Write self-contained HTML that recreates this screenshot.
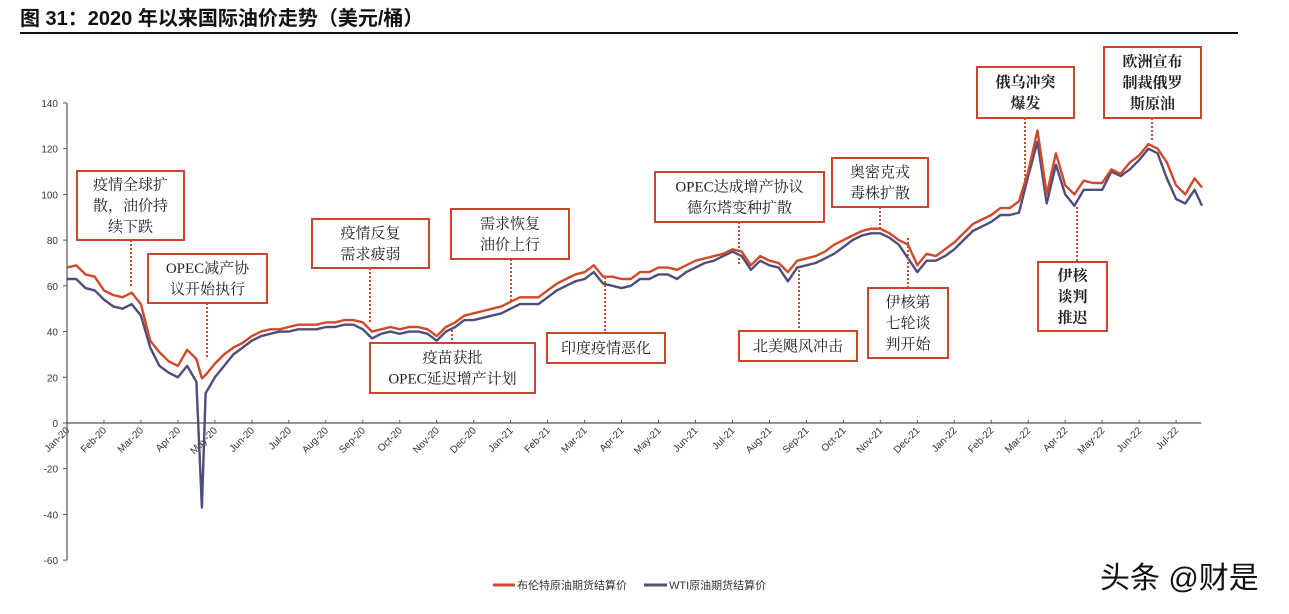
<!DOCTYPE html>
<html><head><meta charset="utf-8">
<style>
html,body{margin:0;padding:0;background:#fff;}
svg{display:block;}
.ann{font-family:"Liberation Serif","Noto Serif CJK SC",serif;font-size:15px;fill:#222;}
.tk{font-family:"Liberation Sans",sans-serif;font-size:10px;fill:#333;}
</style></head>
<body>
<svg id="chart" width="1289" height="614" viewBox="0 0 1289 614" xmlns="http://www.w3.org/2000/svg">
<text x="20" y="25" font-family="Liberation Sans,'Noto Sans CJK SC',sans-serif" font-size="20" font-weight="bold" fill="#111">图 31：2020 年以来国际油价走势（美元/桶）</text>
<line x1="20" y1="33" x2="1238" y2="33" stroke="#111" stroke-width="2"/>
<g id="axes"></g>
<g id="series"></g>
<g id="annots"></g>
<g>
<line x1="493" y1="585" x2="515" y2="585" stroke="#d0492a" stroke-width="3"/>
<text x="517" y="589" font-family="Liberation Sans,'Noto Sans CJK SC',sans-serif" font-size="11" fill="#333">布伦特原油期货结算价</text>
<line x1="644" y1="585" x2="667" y2="585" stroke="#4f4d7a" stroke-width="3"/>
<text x="669" y="589" font-family="Liberation Sans,'Noto Sans CJK SC',sans-serif" font-size="11" fill="#333">WTI原油期货结算价</text>
</g>
<text x="1100" y="588" font-family="Liberation Sans,'Noto Sans CJK SC',sans-serif" font-size="30" fill="#111">头条 @财是</text>
</svg>
<script>
const monthLabels=["Jan-20","Feb-20","Mar-20","Apr-20","May-20","Jun-20","Jul-20","Aug-20","Sep-20","Oct-20","Nov-20","Dec-20","Jan-21","Feb-21","Mar-21","Apr-21","May-21","Jun-21","Jul-21","Aug-21","Sep-21","Oct-21","Nov-21","Dec-21","Jan-22","Feb-22","Mar-22","Apr-22","May-22","Jun-22","Jul-22"];
const yTicks=[140,120,100,80,60,40,20,0,-20,-40,-60];
const dates=[0,0.25,0.5,0.75,1,1.25,1.5,1.75,2,2.25,2.5,2.75,3,3.25,3.5,3.65,3.75,4,4.25,4.5,4.75,5,5.25,5.5,5.75,6,6.25,6.5,6.75,7,7.25,7.5,7.75,8,8.25,8.5,8.75,9,9.25,9.5,9.75,10,10.25,10.5,10.75,11,11.25,11.5,11.75,12,12.25,12.5,12.75,13,13.25,13.5,13.75,14,14.25,14.5,14.75,15,15.25,15.5,15.75,16,16.25,16.5,16.75,17,17.25,17.5,17.75,18,18.25,18.5,18.75,19,19.25,19.5,19.75,20,20.25,20.5,20.75,21,21.25,21.5,21.75,22,22.25,22.5,22.75,23,23.25,23.5,23.75,24,24.25,24.5,24.75,25,25.25,25.5,25.75,26,26.25,26.5,26.75,27,27.25,27.5,27.75,28,28.25,28.5,28.75,29,29.25,29.5,29.75,30,30.25,30.5,30.7];
const brent=[68,69,65,64,58,56,55,57,52,36,31,27,25,32,28,19.5,21,26,30,33,35,38,40,41,41,42,43,43,43,44,44,45,45,44,40,41,42,41,42,42,41,38,42,44,47,48,49,50,51,53,55,55,55,58,61,63,65,66,69,64,64,63,63,66,66,68,68,67,69,71,72,73,74,76,75,69,73,71,70,66,71,72,73,75,78,80,82,84,85,85,83,80,78,69,74,73,76,79,83,87,89,91,94,94,97,110,128,100,118,104,100,106,105,105,111,109,114,117,122,120,114,104,100,107,103];
const wti=[63,63,59,58,54,51,50,52,47,33,25,22,20,25,18,-37,13,20,25,30,33,36,38,39,40,40,41,41,41,42,42,43,43,41,37,39,40,39,40,40,39,36,40,42,45,45,46,47,48,50,52,52,52,55,58,60,62,63,66,61,60,59,60,63,63,65,65,63,66,68,70,71,73,75,73,67,71,69,68,62,68,69,70,72,74,77,80,82,83,83,81,78,72,66,71,71,73,76,80,84,86,88,91,91,92,108,123,96,113,100,95,102,102,102,110,108,111,115,120,118,107,98,96,102,95];
const NS="http://www.w3.org/2000/svg";
const X0=67,MW=36.97,Y0=423,PU=2.286;
function xs(m){return X0+m*MW;}
function ys(v){return Y0-v*PU;}
function mk(tag,attrs,parent){const e=document.createElementNS(NS,tag);for(const k in attrs)e.setAttribute(k,attrs[k]);parent.appendChild(e);return e;}
const axes=document.getElementById('axes');
let yl=mk('line',{x1:X0,y1:ys(140),x2:X0,y2:ys(-60),stroke:'#555','stroke-width':1.2},axes);


yTicks.forEach(v=>{
  let t=mk('line',{x1:X0-4,y1:ys(v),x2:X0,y2:ys(v),stroke:'#555'},axes);
  
  
  let l=mk('text',{x:X0-9,y:ys(v)+4,'text-anchor':'end',class:'tk'},axes);
  l.textContent=v;
  
  
});
let xl=mk('line',{x1:X0,y1:Y0,x2:xs(30.68),y2:Y0,stroke:'#555','stroke-width':1.2},axes);


monthLabels.forEach((lab,i)=>{
  const x=xs(i);
  let t=mk('line',{x1:x,y1:Y0,x2:x,y2:Y0-3,stroke:'#555'},axes);
  
  
  let l=mk('text',{x:x+3,y:Y0+8,'text-anchor':'end',class:'tk',transform:`rotate(-45 ${x+3} ${Y0+8})`},axes);
  l.textContent=lab;
  
  
});
const ser=document.getElementById('series');
function path(vals){return vals.map((v,i)=>(i?'L':'M')+xs(dates[i]).toFixed(1)+','+ys(v).toFixed(1)).join('');}
let pb=mk('path',{d:path(brent),fill:'none',stroke:'#d0492a','stroke-width':2.4,'stroke-linejoin':'round'},ser);


let pw=mk('path',{d:path(wti),fill:'none',stroke:'#4f4d7a','stroke-width':2.4,'stroke-linejoin':'round'},ser);


ser.appendChild(pb);
const ann=[
 [77,171,184,240,["疫情全球扩","散，油价持","续下跌"],131,240,288,false],
 [148,254,267,303,["OPEC减产协","议开始执行"],207,303,357,false],
 [312,219,429,268,["疫情反复","需求疲弱"],370,268,323,false],
 [451,209,569,259,["需求恢复","油价上行"],511,259,303,false],
 [370,343,535,393,["疫苗获批","OPEC延迟增产计划"],452,330,343,false],
 [547,333,665,363,["印度疫情恶化"],605,277,333,false],
 [655,172,824,222,["OPEC达成增产协议","德尔塔变种扩散"],739,222,265,false],
 [739,331,857,361,["北美飓风冲击"],799,270,331,false],
 [832,158,928,207,["奥密克戎","毒株扩散"],880,207,230,false],
 [868,288,948,358,["伊核第","七轮谈","判开始"],908,238,288,false],
 [977,67,1074,118,["俄乌冲突","爆发"],1025,118,187,true],
 [1104,47,1201,118,["欧洲宣布","制裁俄罗","斯原油"],1152,118,140,true],
 [1038,262,1107,331,["伊核","谈判","推迟"],1077,207,262,true]
];
const ag=document.getElementById('annots');
ann.forEach(a=>{
  const [x1,y1,x2,y2,lines,lx,ly1,ly2,bold]=a;
  let dl=mk('line',{x1:lx,y1:ly1,x2:lx,y2:ly2,stroke:'#d0492a','stroke-width':2,'stroke-dasharray':'2,2'},ag);
  
  
  let r=mk('rect',{x:x1,y:y1,width:x2-x1,height:y2-y1,fill:'#fff',stroke:'#c8462b','stroke-width':2},ag);
  
  
  const lh=21,cy=(y1+y2)/2,start=cy-(lines.length-1)*lh/2;
  lines.forEach((s,i)=>{
    let t=mk('text',{x:(x1+x2)/2,y:start+i*lh+5,'text-anchor':'middle',class:'ann','font-weight':bold?'bold':'normal'},ag);
    t.textContent=s;
    
    
  });
});
</script>
</body></html>
